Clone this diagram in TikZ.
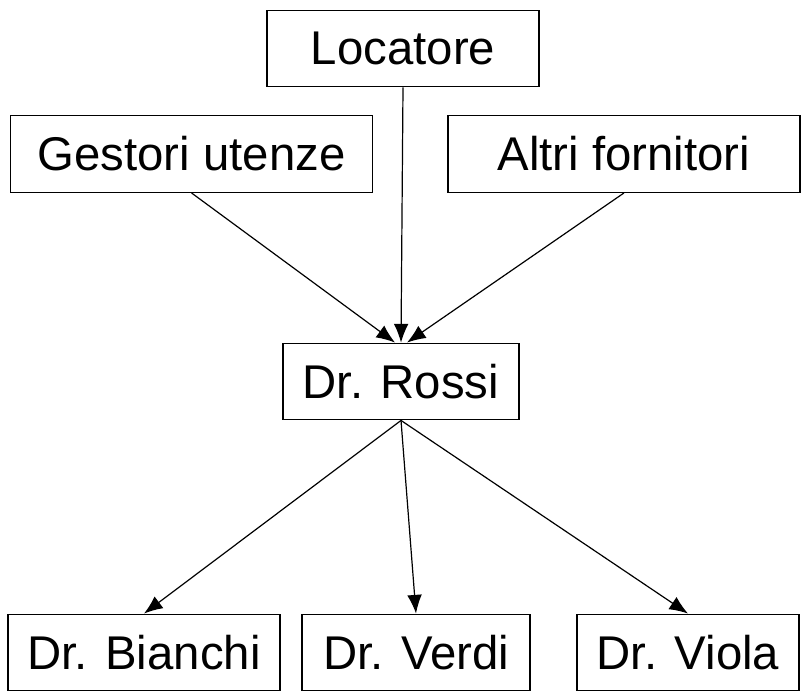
\documentclass[tikz,border=0pt]{standalone}
\usepackage{fontspec}
\setmainfont{Liberation Sans}
\usepackage{tikz}
\usetikzlibrary{arrows.meta,positioning}

\begin{document}
\begin{tikzpicture}[x=0.75pt, y=-0.75pt,
    box/.style={draw, line width=0.9pt, minimum height=57.5pt, inner sep=0pt, font=\fontsize{35.5}{40}\selectfont},
    link/.style={line width=0.9pt, -{Latex[length=14pt, width=11pt]}}]
            \useasboundingbox (0,0) rectangle (809,691);

            % Suppliers
            \node[box, minimum width=204pt] (locatore) at (403,48.5) {Locatore};
            \node[box, minimum width=272pt] (gestori) at (191.5,154) {Gestori utenze};
            \node[box, minimum width=264pt] (altri) at (624,154) {Altri fornitori};

            % Main doctor
            \node[box, minimum width=177pt] (rossi) at (401,381.5) {Dr. Rossi};

            % Staff
            \node[box, minimum width=204pt] (bianchi) at (144,652.5) {Dr. Bianchi};
            \node[box, minimum width=171pt] (verdi) at (416,652.5) {Dr. Verdi};
            \node[box, minimum width=166.5pt] (viola) at (688,652.5) {Dr. Viola};

            % Arrows into Dr. Rossi
            \draw[link] (gestori.south) -- ([xshift=-4.5pt]rossi.north);
            \draw[link] (locatore.south) -- (rossi.north);
            \draw[link] (altri.south) -- ([xshift=4.5pt]rossi.north);

            % Arrows out of Dr. Rossi
            \draw[link] (rossi.south) -- (bianchi.north);
            \draw[link] (rossi.south) -- (verdi.north);
            \draw[link] (rossi.south) -- (viola.north);
        \end{tikzpicture}
\end{document}
